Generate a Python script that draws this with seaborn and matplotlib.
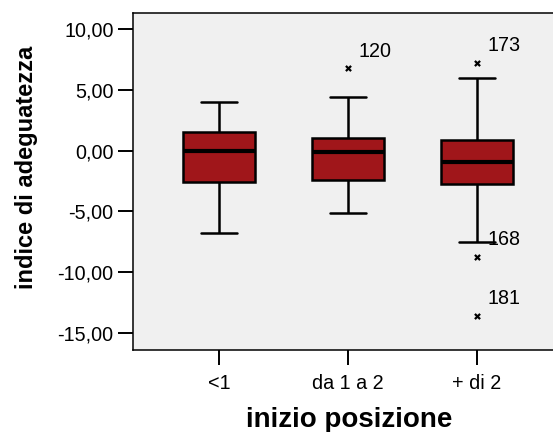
import numpy as np
import pandas as pd
import matplotlib
matplotlib.use("Agg")
import matplotlib.pyplot as plt
import seaborn as sns

# --- data ---
categories = ["<1", "da 1 a 2", "+ di 2"]
whisker_low = [-6.81, -5.13, -7.50]
q1 = [-2.55, -2.42, -2.77]
median = [0.00, -0.08, -0.91]
q3 = [1.57, 1.07, 0.88]
whisker_high = [3.99, 4.45, 5.97]

outlier_cat = ["da 1 a 2", "+ di 2", "+ di 2", "+ di 2"]
outlier_val = [6.79, 7.26, -8.74, -13.60]
outlier_id = ["120", "173", "168", "181"]

yticks = [10, 5, 0, -5, -10, -15]
xlabel = "inizio posizione"
ylabel = "indice di adeguatezza"

# five-number summary rows -> exact quartiles with numpy's linear method
rows = []
for i, c in enumerate(categories):
    for v in (whisker_low[i], q1[i], median[i], q3[i], whisker_high[i]):
        rows.append({"cat": c, "val": v})
df = pd.DataFrame(rows)
out_df = pd.DataFrame({"cat": outlier_cat, "val": outlier_val, "id": outlier_id})

sns.set_theme(style="white")
plt.rcParams["font.family"] = ["Liberation Sans", "DejaVu Sans"]

fig = plt.figure(figsize=(5.53, 4.32), dpi=100)
ax = fig.add_axes([133 / 553, (432 - 350) / 432, (553 - 133) / 553, (350 - 13) / 432])
ax.set_facecolor("#F0F0F0")

sns.boxplot(data=df, x="cat", y="val", order=categories, ax=ax,
            color="#A0161A", saturation=1, width=0.56, whis=np.inf,
            linecolor="black", linewidth=1.8,
            medianprops=dict(linewidth=3, color="black"),
            boxprops=dict(edgecolor="black"))

sns.scatterplot(data=out_df, x="cat", y="val", ax=ax, marker="x",
                color="black", s=14, linewidth=1.6, zorder=5, legend=False)

cat_pos = {c: i for i, c in enumerate(categories)}
for c, v, t in zip(outlier_cat, outlier_val, outlier_id):
    ax.annotate(t, (cat_pos[c], v), xytext=(10, 17), textcoords="offset pixels",
                ha="left", va="center", fontsize=14.2, color="black")

ax.set_xlim(-0.667, (553 - 133) / 129 - 0.667)
ax.set_ylim(-16.43, 11.35)
ax.set_yticks(yticks)
ax.set_yticklabels([f"{v:.2f}".replace(".", ",") for v in yticks])

for s in ["left", "bottom", "top"]:
    ax.spines[s].set_visible(True)
    ax.spines[s].set_color("black")
    ax.spines[s].set_linewidth(1.1)
ax.spines["right"].set_visible(False)

ax.tick_params(axis="both", direction="out", length=11, width=1.4, color="black",
               labelsize=14.2, labelcolor="black", left=True, bottom=True)
ax.tick_params(axis="x", pad=6)
ax.tick_params(axis="y", pad=3)
ax.set_xlabel(xlabel, fontsize=20, fontweight="bold", color="black", va="baseline")
ax.set_ylabel(ylabel, fontsize=17, fontweight="bold", color="black", va="center")
ax.xaxis.set_label_coords((349 - 133) / 420, (350 - 427) / 337)
ax.yaxis.set_label_coords((27 - 133) / 420, (350 - 167.5) / 337)

fig.savefig("out.png", dpi=100)
